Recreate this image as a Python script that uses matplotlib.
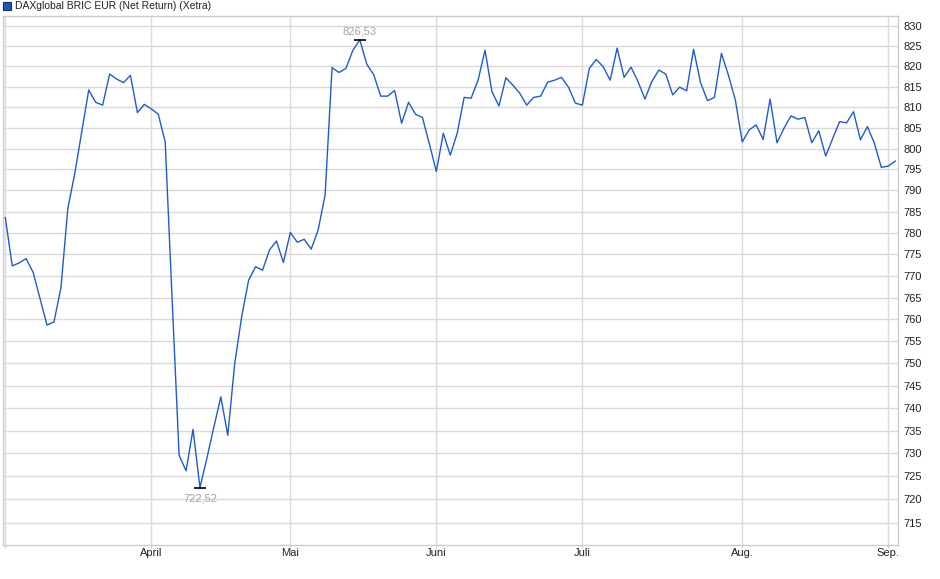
import matplotlib
matplotlib.use("Agg")
import matplotlib.pyplot as plt
from matplotlib.patches import Rectangle
import pandas as pd

plt.rcParams['font.family'] = ['Liberation Sans', 'DejaVu Sans']

title = "DAXglobal BRIC EUR (Net Return) (Xetra)"

# Xetra trading days, 3 March - 2 September 2025
holidays = ["2025-04-18", "2025-04-21", "2025-05-01"]
month_names = ["", "April", "Mai", "Juni", "Juli", "Aug.", "Sep."]

values = [
    783.6, 772.3, 773.0, 774.0, 770.8, 764.7, 758.7, 759.4, 767.2, 785.8,
    794.1, 804.1, 814.2, 811.2, 810.5, 818.1, 816.9, 816.0, 817.8, 808.7,
    810.7, 809.6, 808.3, 801.6, 764.4, 729.6, 726.2, 735.3, 722.52, 729.0,
    735.8, 742.5, 734.0, 750.0, 760.6, 769.0, 772.1, 771.3, 776.0, 778.1,
    773.1, 780.1, 777.8, 778.5, 776.2, 780.7, 788.9, 819.7, 818.5, 819.5,
    824.0, 826.53, 820.5, 817.9, 812.7, 812.7, 814.1, 806.1, 811.2, 808.3,
    807.5, 801.1, 794.5, 803.7, 798.4, 803.7, 812.4, 812.2, 816.6, 824.0,
    813.8, 810.3, 817.2, 815.4, 813.4, 810.5, 812.4, 812.7, 816.1, 816.6,
    817.3, 814.9, 811.0, 810.5, 819.5, 821.7, 819.9, 816.6, 824.5, 817.3,
    819.8, 816.3, 812.0, 816.3, 819.1, 818.1, 813.0, 814.9, 814.0, 824.2,
    816.0, 811.6, 812.4, 823.2, 817.9, 811.8, 801.6, 804.5, 805.7, 802.2,
    812.0, 801.4, 804.9, 807.9, 807.1, 807.5, 801.4, 804.3, 798.2, 802.4,
    806.5, 806.2, 808.9, 802.1, 805.3, 801.3, 795.5, 795.8, 797.0,
]

y_ticks = list(range(715, 831, 5))

dates = pd.bdate_range("2025-03-03", "2025-09-02")
dates = dates[~dates.isin(pd.to_datetime(holidays))]
df = pd.DataFrame({"date": dates, "value": values})
df["pos"] = range(len(df))

# first trading day of every month
month_pos = df.groupby(df["date"].dt.to_period("M"))["pos"].min().tolist()

fig = plt.figure(figsize=(9.4, 5.79), dpi=100)
ax = fig.add_axes([3 / 940, 1 - 545 / 579, 895 / 940, 529 / 579])

ax.plot(df["pos"], df["value"], color="#1f5ccb", lw=1.0, zorder=3)

ax.set_yscale("log")
ax.set_ylim(710.2, 832.5)
ax.set_xlim(-0.33, 128.4)

ax.yaxis.set_major_locator(matplotlib.ticker.FixedLocator(y_ticks))
ax.yaxis.set_minor_locator(matplotlib.ticker.NullLocator())
ax.yaxis.set_major_formatter(matplotlib.ticker.FixedFormatter([str(t) for t in y_ticks]))
ax.yaxis.tick_right()
ax.tick_params(axis="y", length=0, pad=4, labelsize=8, labelcolor="#222222")

ax.set_xticks(month_pos)
ax.set_xticklabels(month_names)
ax.tick_params(axis="x", length=2.5, width=0.8, color="#cccccc", pad=0,
               labelsize=8, labelcolor="#222222")

ax.grid(True, color="#dadada", lw=1.0, zorder=0)
for s in ax.spines.values():
    s.set_color("#cccccc")
    s.set_linewidth(1.0)

# high / low markers
hi = df["value"].idxmax()
lo = df["value"].idxmin()
for i, off, va in [(hi, 2.5, "bottom"), (lo, -4, "top")]:
    x, v = df.loc[i, "pos"], df.loc[i, "value"]
    ax.plot(x, v, marker="_", color="black", ms=9, mew=1.2, zorder=4)
    ax.annotate(f"{v:.2f}".replace(".", ","), (x, v), xytext=(0, off),
                textcoords="offset points", ha="center", va=va,
                fontsize=8, color="#a8a29a", zorder=5)

# legend-like title
fig.patches.append(Rectangle((3 / 940, 1 - 10 / 579), 8 / 940, 8 / 579,
                             transform=fig.transFigure, facecolor="#1f55c0",
                             edgecolor="#1a2f6a", lw=0.8))
fig.text(15 / 940, 1 - 6 / 579, title, fontsize=7.5, va="center", ha="left",
         color="#222222")

fig.savefig("out.png", dpi=100)
